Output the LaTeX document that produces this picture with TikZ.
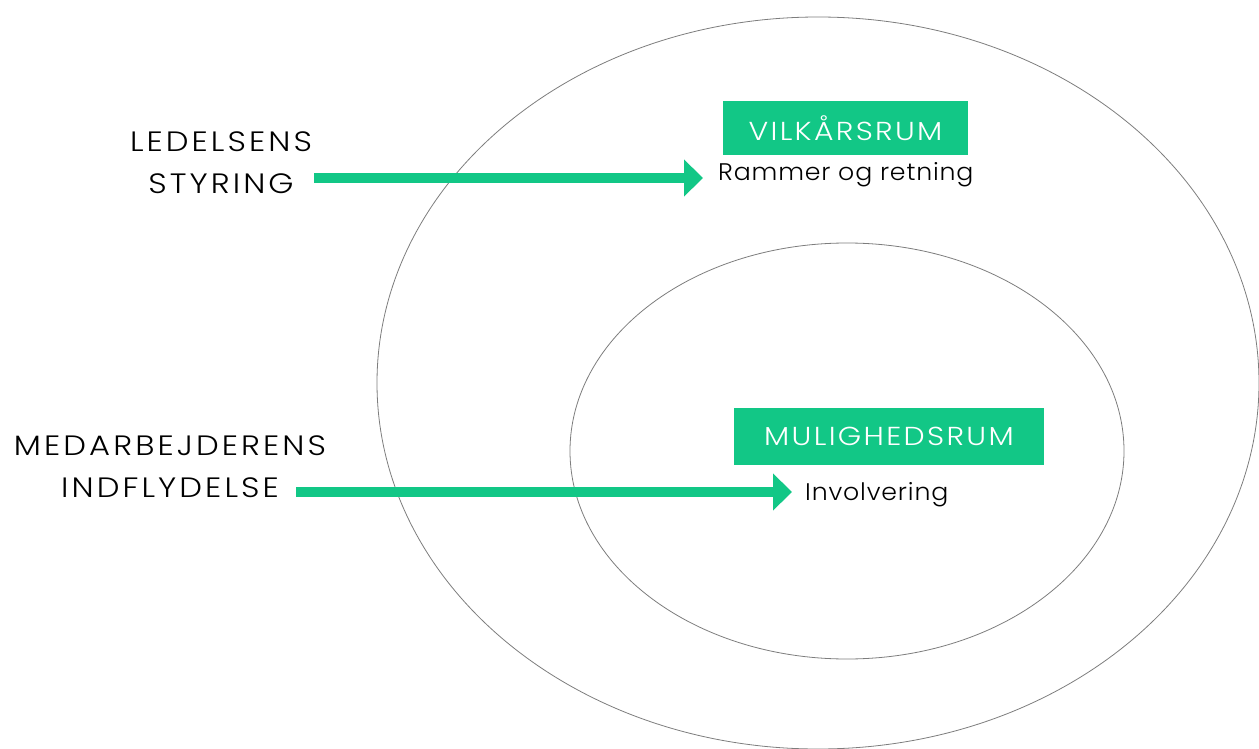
\documentclass[tikz,border=0pt]{standalone}
\usepackage{fontspec}
\IfFontExistsTF{Poppins Light}{\def\rumface{Poppins Light}}{\def\rumface{Poppins}}
\setmainfont{\rumface}
\newfontfamily\widefont[FakeStretch=1.15,LetterSpace=11]{\rumface}
\newfontfamily\tagfont[FakeStretch=1.15,LetterSpace=9]{\rumface}
\newfontfamily\subfont[FakeStretch=1.05,LetterSpace=3.5]{\rumface}
\usetikzlibrary{arrows.meta,positioning}
\definecolor{rumgreen}{RGB}{18,199,134}
\definecolor{ringgray}{RGB}{125,125,125}

\begin{document}
\begin{tikzpicture}[x=1pt, y=-1pt,
  ring/.style={draw=ringgray, line width=0.8pt},
  tag/.style={rectangle, fill=rumgreen, text=white, inner sep=0pt,
              minimum height=#1, font=\tagfont\fontsize{26}{30}\selectfont},
  sub/.style={anchor=west, inner sep=0pt, font=\subfont\fontsize{24}{28}\selectfont},
  lbl/.style={align=center, inner sep=0pt, font=\widefont\fontsize{28}{42}\selectfont},
  arr/.style={rumgreen, line width=10pt, -{Triangle[length=19pt,width=36pt]}}
]
  \useasboundingbox (0,0) rectangle (1259,749);
  \clip (0,0) rectangle (1259,749);

  % the two rooms
  \draw[ring] (818,383) ellipse [x radius=441, y radius=366];
  \draw[ring] (847,451) ellipse [x radius=277, y radius=208];

  \node[tag=54pt, minimum width=245pt] (vilkar) at (845.5,128) {VILKÅRSRUM};
  \node[sub] (rammer) at (718,175) {Rammer og retning};

  \node[tag=57pt, minimum width=310pt] (mulig) at (889,436.5) {MULIGHEDSRUM};
  \node[sub] (involv) at (805,495) {Involvering};

  % who pushes in
  \node[lbl] (ledelse) at (221,163) {LEDELSENS\\STYRING};
  \node[lbl] (medarb) at (170,467) {MEDARBEJDERENS\\INDFLYDELSE};

  \coordinate (a1) at (314,178);
  \coordinate (a2) at (296,492);
  \draw[arr] (a1) -- ([xshift=-15pt]rammer.west |- a1);
  \draw[arr] (a2) -- ([xshift=-13pt]involv.west |- a2);
\end{tikzpicture}
\end{document}
